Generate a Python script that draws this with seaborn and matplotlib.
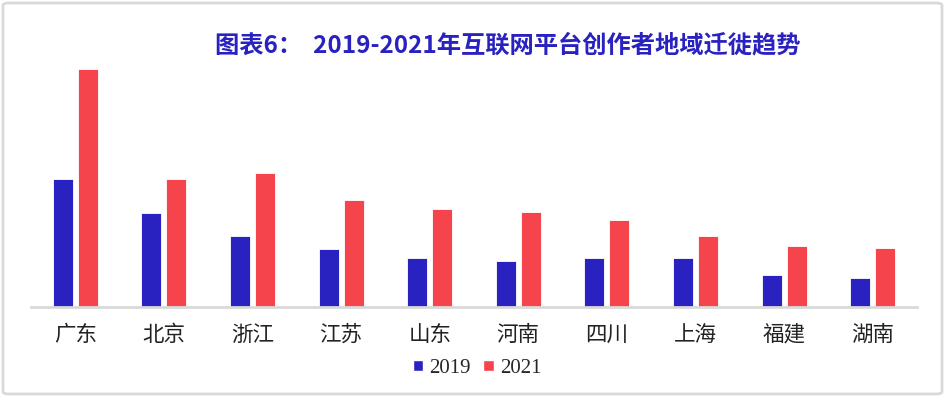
import matplotlib
matplotlib.use("Agg")
import matplotlib.pyplot as plt
import pandas as pd
import seaborn as sns
from matplotlib.patches import FancyBboxPatch, Patch

# values (no y axis shown, relative bar heights)
regions = ["广东", "北京", "浙江", "江苏", "山东", "河南", "四川", "上海", "福建", "湖南"]
years = ["2019", "2021"]
values_2019 = [128, 94, 71, 58, 49, 46, 49, 49, 32, 29]
values_2021 = [238, 128, 134, 107, 98, 95, 87, 71, 61, 59]
title = "图表6：  2019-2021年互联网平台创作者地域迁徙趋势"

BLUE = "#2a22c0"
RED = "#f5444c"

df = pd.DataFrame(
    {
        "region": regions * 2,
        "year": [years[0]] * len(regions) + [years[1]] * len(regions),
        "value": values_2019 + values_2021,
    }
)

sns.set_theme(style="white")
plt.rcParams["font.family"] = ["Noto Sans CJK SC", "DejaVu Sans"]

fig = plt.figure(figsize=(9.45, 3.97), dpi=100)
ax = fig.add_axes([31 / 945, 90 / 397, (917 - 31) / 945, 260 / 397])

sns.barplot(
    data=df,
    x="region",
    y="value",
    hue="year",
    order=regions,
    hue_order=years,
    palette=[BLUE, RED],
    saturation=1,
    width=0.564,
    gap=0.2,
    edgecolor="white",
    linewidth=0.6,
    legend=False,
    ax=ax,
)

ax.set_xlim(-0.5, 9.5)
ax.set_ylim(0, 260)
ax.set_xlabel("")
ax.set_ylabel("")
ax.set_yticks([])
for side in ["top", "right", "left"]:
    ax.spines[side].set_visible(False)
ax.spines["bottom"].set_color("#d9d9d9")
ax.spines["bottom"].set_linewidth(2)
ax.tick_params(axis="x", length=0, pad=12, labelsize=15.5, labelcolor="#222222")

fig.text(
    0.537, 0.885, title, ha="center", va="center",
    fontsize=17.5, fontweight="bold", color=BLUE,
    family=["Noto Sans CJK SC", "DejaVu Sans"],
)

handles = [Patch(facecolor=BLUE, label=years[0]), Patch(facecolor=RED, label=years[1])]
fig.legend(
    handles=handles, loc="center", bbox_to_anchor=(0.505, 0.072), ncol=2,
    frameon=False, handlelength=0.5, handleheight=0.5, handletextpad=0.3,
    columnspacing=0.6, prop={"family": "Liberation Serif", "size": 15},
)

fig.patches.append(
    FancyBboxPatch(
        (3 / 945, 3 / 397), 939 / 945, 391 / 397,
        boxstyle="round,pad=0,rounding_size=0.006",
        transform=fig.transFigure, facecolor="none",
        edgecolor="#d9d9d9", linewidth=2, zorder=-1,
    )
)

fig.savefig("out.png", dpi=100)
